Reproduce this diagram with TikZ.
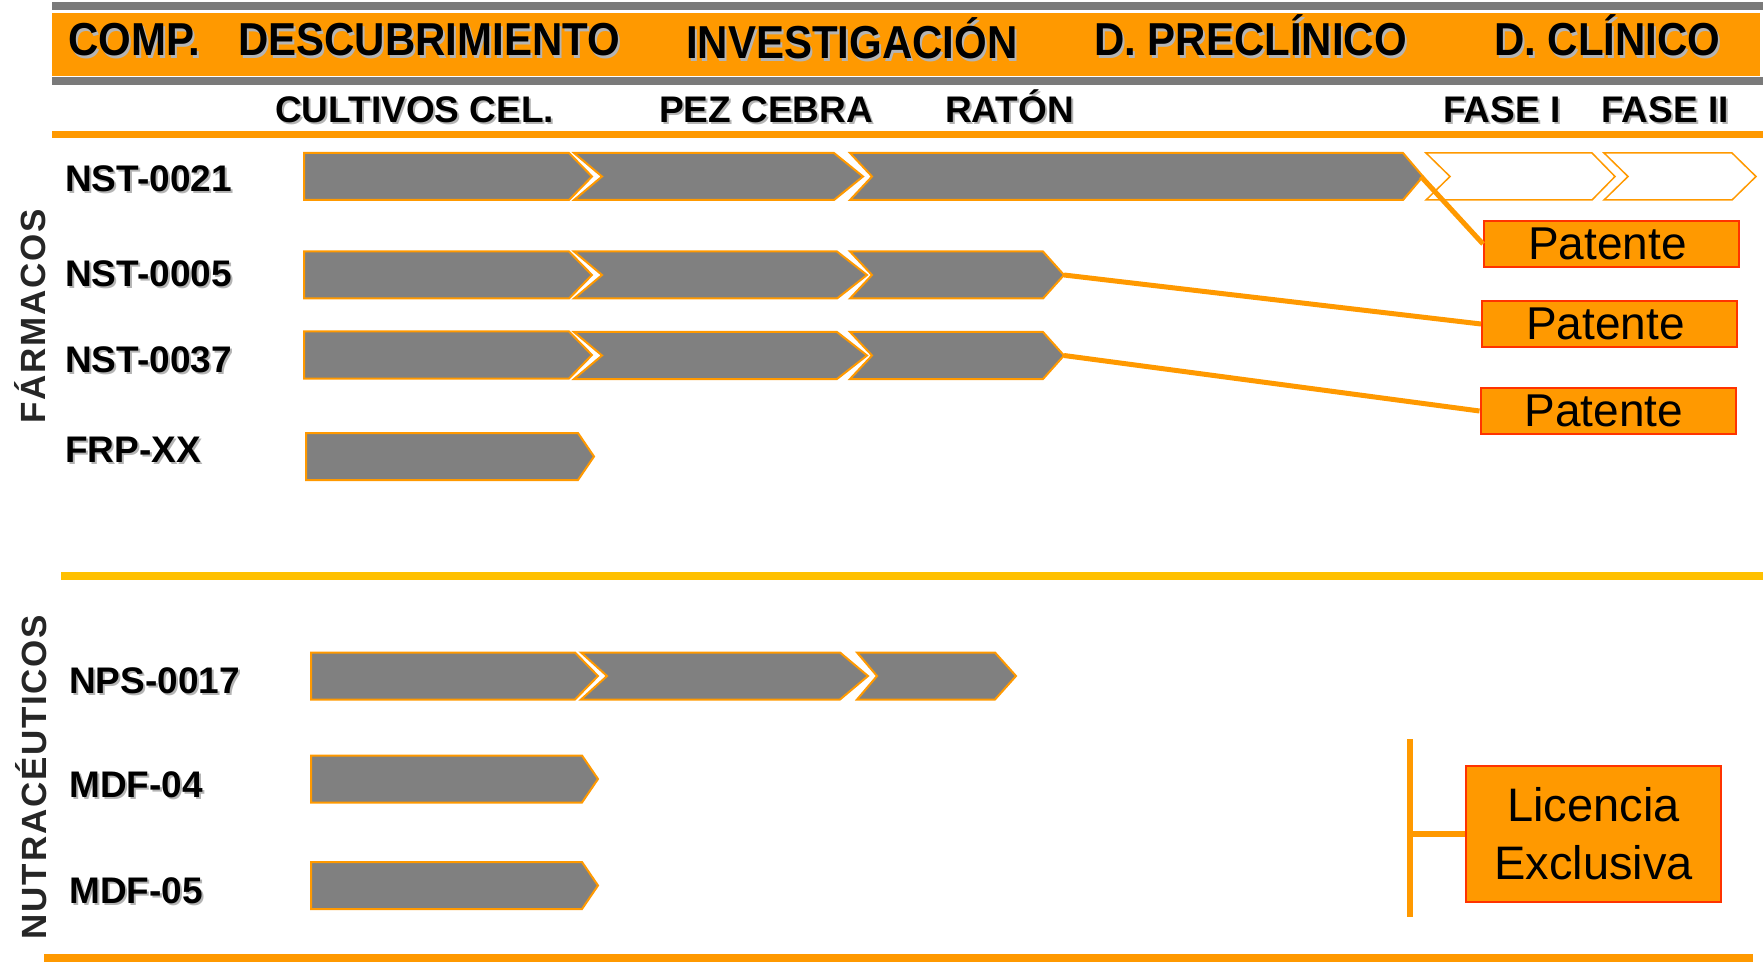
\documentclass[tikz,border=0pt]{standalone}
\usepackage{graphicx}
\usepackage{fontspec}
\setmainfont{Liberation Sans}
\newfontfamily\sidefont[LetterSpace=5]{Liberation Sans}
\definecolor{org}{HTML}{FF9900}
\definecolor{barg}{HTML}{7A7A7A}
\definecolor{chevgray}{HTML}{808080}
\definecolor{yel}{HTML}{FFC000}
\definecolor{patred}{HTML}{FF3300}
\definecolor{shadowg}{HTML}{B4B4B4}
\definecolor{sidegray}{HTML}{262626}
\newcommand{\shd}[1]{\makebox[0pt][l]{\hspace{2pt}\raisebox{-2pt}{\textcolor{shadowg}{#1}}}#1}
\newcommand{\hdrtxt}[1]{\scalebox{1}[1.1]{\shd{#1}}}
\newcommand{\pentarrow}[5]{\draw[#5] (#1,#4-23.5) -- (#2,#4-23.5) -- (#3,#4) -- (#2,#4+23.5) -- (#1,#4+23.5) -- cycle;}
\newcommand{\chevarrow}[6]{\draw[#6] (#1,#5-23.5) -- (#3,#5-23.5) -- (#4,#5) -- (#3,#5+23.5) -- (#1,#5+23.5) -- (#2,#5) -- cycle;}
\begin{document}
\begin{tikzpicture}[x=1pt,y=-1pt,
  hdr/.style={inner sep=0pt, anchor=base west, font=\fontsize{42}{46}\selectfont\bfseries},
  sub/.style={inner sep=0pt, anchor=base west, font=\fontsize{37}{40}\selectfont\bfseries},
  side/.style={inner sep=0pt, anchor=base, rotate=90, text=sidegray, font=\sidefont\fontsize{35}{40}\selectfont\bfseries},
  chev/.style={fill=chevgray, draw=org, line width=2pt, line join=miter},
  wchev/.style={fill=white, draw=org, line width=1.5pt, line join=miter},
  pat/.style={fill=org, draw=patred, line width=2pt, minimum width=255pt, minimum height=46pt, inner sep=0pt, font=\fontsize{46}{50}\selectfont},
  conn/.style={draw=org, line width=5pt},
  bar/.style={line width=6pt, draw=org}]
\useasboundingbox (0,0) rectangle (1763,965);
% bands and rules
\fill[barg] (52,2) rectangle (1763,10);
\fill[org] (52,13) rectangle (1760,76);
\fill[barg] (52,77) rectangle (1763,85);
\fill[org] (52,131) rectangle (1763,138);
\fill[yel] (61,572) rectangle (1763,580);
\fill[org] (44,954) rectangle (1753,962);
% header
\node[hdr] (hcomp) at (68,56) {\hdrtxt{COMP.}};
\node[hdr] (hdesc) at (238,56) {\hdrtxt{DESCUBRIMIENTO}};
\node[hdr] (hinv) at (686,59) {\hdrtxt{INVESTIGACIÓN}};
\node[hdr] (hpre) at (1094,56) {\hdrtxt{D. PRECLÍNICO}};
\node[hdr] (hcli) at (1494,56) {\hdrtxt{D. CLÍNICO}};
% subheader
\node[sub] (scult) at (275,123) {\shd{CULTIVOS CEL.}};
\node[sub] (spez) at (659,123) {\shd{PEZ CEBRA}};
\node[sub] (srat) at (945,123) {\shd{RATÓN}};
\node[sub] (sf1) at (1443,123) {\shd{FASE I}};
\node[sub] (sf2) at (1601,123) {\shd{FASE II}};
% side labels
\node[side] (far) at (45,316) {FÁRMACOS};
\node[side] (nut) at (46,777) {NUTRACÉUTICOS};
% row labels
\node[sub] (l1) at (65,192) {\shd{NST-0021}};
\node[sub] (l2) at (65,287) {\shd{NST-0005}};
\node[sub] (l3) at (65,372) {\shd{NST-0037}};
\node[sub] (l4) at (65,462) {\shd{FRP-XX}};
\node[sub] (l5) at (69,693) {\shd{NPS-0017}};
\node[sub] (l6) at (69,797) {\shd{MDF-04}};
\node[sub] (l7) at (69,903) {\shd{MDF-05}};
% row 1
\pentarrow{304}{569}{592}{176.5}{chev}
\chevarrow{574}{602}{834}{863}{176.5}{chev}
\chevarrow{850}{872}{1403}{1423}{176.5}{chev}
\chevarrow{1426}{1450}{1592}{1615}{176.5}{wchev}
\chevarrow{1604}{1628}{1732}{1756}{176.5}{wchev}
% row 2
\pentarrow{304}{569}{592}{275}{chev}
\chevarrow{574}{602}{837}{867}{275}{chev}
\chevarrow{850}{872}{1043}{1064}{275}{chev}
% row 3
\pentarrow{304}{569}{592}{355}{chev}
\chevarrow{574}{602}{837}{867}{355.5}{chev}
\chevarrow{850}{872}{1043}{1064}{355.5}{chev}
% row 4
\pentarrow{306}{578}{594}{456.5}{chev}
% nutraceuticos
\pentarrow{311}{575}{598}{676}{chev}
\chevarrow{581}{607}{840}{868}{676}{chev}
\chevarrow{857}{877}{995}{1016}{676}{chev}
\pentarrow{311}{582}{598}{779}{chev}
\pentarrow{311}{582}{598}{885.5}{chev}
% tips
\coordinate (t1) at (1421,176.5);
\coordinate (t2) at (1064,275);
\coordinate (t3) at (1064,355.5);
% patente boxes
\node[pat] (p1) at (1611.5,244) {\hspace*{-8pt}Patente};
\node[pat] (p2) at (1609.5,324) {\hspace*{-8pt}Patente};
\node[pat] (p3) at (1608,411) {\hspace*{-8pt}Patente};
\draw[conn] (t1) -- (p1.west);
\draw[conn] (t2) -- (p2.west);
\draw[conn] (t3) -- (p3.west);
% licencia
\node[pat, minimum height=136pt, align=center, font=\fontsize{47}{58}\selectfont] (lic) at (1593.5,834) {Licencia\\Exclusiva};
\coordinate (bt) at (1410,739);
\coordinate (bb) at (1410,917);
\draw[bar] (bt) -- (bb);
\draw[bar] (bt |- lic.west) -- (lic.west);
\end{tikzpicture}
\end{document}
